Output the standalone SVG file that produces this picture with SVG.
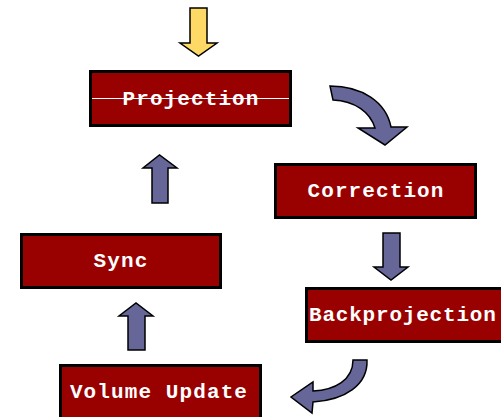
<svg xmlns="http://www.w3.org/2000/svg" width="501" height="417" viewBox="0 0 501 417">
  <style>
    .box { fill: #990000; stroke: #000000; stroke-width: 3; }
    .label { font-family: "Liberation Mono", "Courier New", monospace; font-weight: bold; font-size: 21px; letter-spacing: 1.1px; fill: #ffffff; text-anchor: middle; }
    .arrow { fill: #666699; stroke: #000000; stroke-width: 1.5; stroke-linejoin: miter; }
    .input { fill: #ffd966; stroke: #000000; stroke-width: 1.5; }
  </style>
  <rect width="501" height="417" fill="#ffffff"/>

  <g id="projection">
    <rect class="box" x="90.5" y="71.5" width="200" height="54"/>
    <line x1="92" y1="98.5" x2="289" y2="98.5" stroke="#ffffff" stroke-width="1"/>
    <text class="label" x="191" y="105">Projection</text>
  </g>

  <g id="correction">
    <rect class="box" x="275.5" y="164.5" width="200" height="53"/>
    <text class="label" x="376" y="197">Correction</text>
  </g>

  <g id="backprojection">
    <rect class="box" x="306.5" y="288.5" width="200" height="53"/>
    <text class="label" x="309" y="321" style="text-anchor: start; letter-spacing: 0.8px;">Backprojection</text>
  </g>

  <g id="volume-update">
    <rect class="box" x="60.5" y="365.5" width="200" height="54"/>
    <text class="label" x="159" y="398">Volume Update</text>
  </g>

  <g id="sync">
    <rect class="box" x="21.5" y="234.5" width="199" height="53"/>
    <text class="label" x="121" y="267">Sync</text>
  </g>

  <g id="connectors">
    <!-- input into Projection -->
    <path class="input" d="M190 8 L207 8 L207 43 L217 43 L198.5 56 L180 43 L190 43 Z"/>
    <!-- Projection to Correction -->
    <path class="arrow" d="M330 86 C362 86 386 102 391 127 L407 127 L385 145 L358 128 L375 128 C370 112 355 101 333 100 Z"/>
    <!-- Correction to Backprojection -->
    <path class="arrow" d="M383 233 L400 233 L400 267 L408 267 L391 280 L374 267 L383 267 Z"/>
    <!-- Backprojection to Volume Update -->
    <path class="arrow" d="M367 360 C368 385 345 400 313 402 L312 413 L291 397 L313 382 L313 391 C335 390 353 380 353 360 Z"/>
    <!-- Volume Update to Sync -->
    <path class="arrow" d="M128 350 L145 350 L145 316 L153 316 L136 303 L119 316 L128 316 Z"/>
    <!-- Sync to Projection -->
    <path class="arrow" d="M152 203 L168 203 L168 168 L177 168 L159.5 155 L143 168 L152 168 Z"/>
  </g>
</svg>
